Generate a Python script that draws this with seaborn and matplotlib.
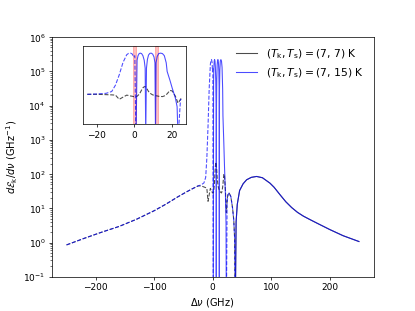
import numpy as np
import seaborn as sns
import matplotlib.pyplot as plt
from matplotlib.lines import Line2D

# частотная отстройка (GHz) и спектры (знак: минус = пунктир)
nu = [-250, -220, -190, -160, -130, -100, -80, -60, -45, -35,
      -25, -20, -15, -12, -10, -8, -6, -4, -3, -2,
      -1, -0.4, 0.3, 0.85, 0.95, 1.5, 2, 2.6, 3.2, 3.9,
      4.6, 5.3, 5.8, 6.1, 6.5, 7, 7.6, 8.3, 9, 9.8,
      10.5, 11, 11.3, 11.6, 12.2, 13, 14, 15, 16, 17,
      17.5, 19, 20.2, 21.9, 22.8, 23.25, 23.4, 24.6, 25, 26,
      28, 31, 34, 36, 37.5, 38.4, 38.6, 40, 42, 46,
      52, 58, 66, 75, 85, 98, 105, 115, 125, 135,
      145, 155, 165, 178, 200, 223, 250]

eps_7_15 = [-0.85, -1.32, -2.0, -2.95, -4.8, -8.5, -13.2, -21.4, -30, -37,
            -45, -48, -55, -80, -300, -2500, -3.2e4, -1.6e5, -2.1e5, -2.2e5,
            -1.8e5, -1.0e5, -1.3e5, -0.01, 0.01, 5e4, 1.3e5, 2e5, 2.2e5, 2e5,
            1.3e5, 5e4, 1e4, 0.01, 1e4, 6e4, 1.5e5, 2.1e5, 2.2e5, 1.8e5,
            1e5, 3e4, 0.01, 3e4, 1.1e5, 2e5, 2.2e5, 2e5, 1.3e5, 3e4,
            5e3, 800, 160, 20, 3.5, 0.01, -0.01, -14, -17, -24,
            -28, -22, -10, -4.5, -1.3, -0.01, 0.01, 4, 13, 33,
            52, 68, 80, 85, 78, 54, 41, 25, 15.5, 10.5,
            7.6, 5.9, 4.8, 3.7, 2.4, 1.58, 1.07]

eps_7_7 = [-0.85, -1.32, -2.0, -2.95, -4.8, -8.5, -13.2, -21.4, -30, -37,
           -45, -45, -42, -40, -38, -16, -25, -38, -35, -32,
           -30, -28, -28, -28, -28, -30, -36, -45, -65, -110,
           -170, -215, -220, -200, -160, -120, -80, -60, -48, -40,
           -37, -35, -34, -33, -32, -30, -29, -28, -32, -42,
           -50, -100, -90, -30, -12, -7.5, -7.5, -16, -20, -25,
           -28, -22, -10, -4.5, -1.3, -0.01, 0.01, 4, 13, 33,
           52, 68, 80, 85, 78, 54, 41, 25, 15.5, 10.5,
           7.6, 5.9, 4.8, 3.7, 2.4, 1.58, 1.07]

bands = [(-0.6, 1.1), (10.9, 12.6)]


def draw_signed(ax, x, y, color, xmax=None):
    x = np.asarray(x, float)
    y = np.asarray(y, float)
    if xmax is not None:
        m = np.abs(x) <= xmax
        x, y = x[m], y[m]
    sgn = np.sign(y)
    start = 0
    for i in range(1, len(y) + 1):
        if i == len(y) or sgn[i] != sgn[start]:
            ls = '-' if sgn[start] > 0 else '--'
            sns.lineplot(x=x[start:i], y=np.abs(y[start:i]), ax=ax, color=color,
                         linestyle=ls, lw=1.2, alpha=0.7)
            start = i


fig = plt.figure(figsize=(6.4, 4.8), dpi=64.85)
ax = fig.add_subplot(111)

draw_signed(ax, nu, eps_7_7, 'k')
draw_signed(ax, nu, eps_7_15, 'b')
ax.set_yscale('log')
ax.set_ylim(1e-1, 1e6)
ax.set_xlim(-275, 275)
ax.set_xlabel(r'$\Delta\nu$ (GHz)', fontsize=11)
ax.set_ylabel(r'$d\mathcal{E}_\mathrm{k}/d\nu$ (GHz$^{-1}$)', fontsize=11)

handles = [Line2D([], [], color='k', lw=1.2, alpha=0.7),
           Line2D([], [], color='b', lw=1.2, alpha=0.7)]
labels = [r'$(T_\mathrm{k}, T_\mathrm{s}) = (7,\,7)$ K',
          r'$(T_\mathrm{k}, T_\mathrm{s}) = (7,\,15)$ K']
ax.legend(handles, labels, loc='upper right', frameon=False, fontsize=12)

# вставка
axin = fig.add_axes([0.199, 0.601, 0.249, 0.251])
for a, b in bands:
    axin.axvspan(a, b, facecolor='red', alpha=0.25, edgecolor='red', lw=1, zorder=0)
draw_signed(axin, nu, eps_7_7, 'k', xmax=25)
draw_signed(axin, nu, eps_7_15, 'b', xmax=25)
axin.set_yscale('log')
axin.set_ylim(1e-1, 1e6)
axin.set_xlim(-27.5, 27.5)
axin.set_xticks([-20, 0, 20])
axin.tick_params(axis='y', which='both', left=False, labelleft=False)
axin.set_xlabel('')
axin.set_ylabel('')

plt.savefig('out.png')
